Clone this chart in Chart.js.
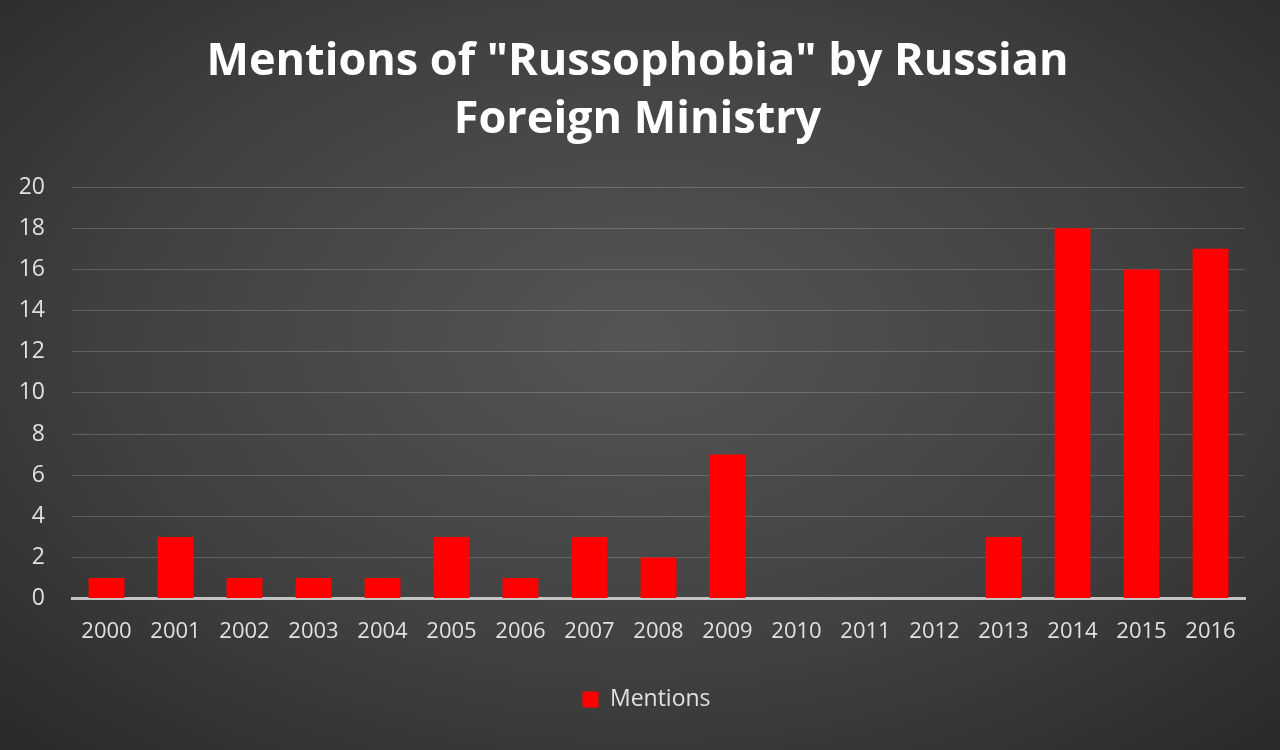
<!DOCTYPE html>
<html>
<head>
<meta charset="utf-8">
<script src="https://cdn.jsdelivr.net/npm/chart.js@4.4.0/dist/chart.umd.min.js"></script>
<style>
    html, body { margin: 0; padding: 0; }
    body {
        width: 1280px; height: 750px; overflow: hidden;
        background: radial-gradient(ellipse 75% 80% at 50% 45%, #555555 0%, #404040 55%, #272727 100%);
    }
    #wrap { position: relative; width: 1280px; height: 750px; }
</style>
</head>
<body>
<div id="wrap"><canvas id="myChart"></canvas></div>
<script>
let years = ['2000', '2001', '2002', '2003', '2004', '2005', '2006', '2007', '2008', '2009',
    '2010', '2011', '2012', '2013', '2014', '2015', '2016'];
let mentions = [1, 3, 1, 1, 1, 3, 1, 3, 2, 7, 0, 0, 0, 3, 18, 16, 17];
let title_lines = ['Mentions of "Russophobia" by Russian', 'Foreign Ministry'];

let txt_font = "Open Sans, Lato, sans-serif";

// title and legend sit centred over the plot, not the whole canvas
let shift_blocks = {
    id: 'shift_blocks',
    afterLayout(chart) {
        if (chart.titleBlock) chart.titleBlock.left = 30;
        if (chart.legend) chart.legend.left = 48;
    }
};

let ctx = document.getElementById('myChart');
let chart = new Chart(ctx, {
    type: 'bar',
    data: {
        labels: years,
        datasets: [
            {
                label: 'Mentions',
                data: mentions,
                backgroundColor: '#ff0000',
                borderWidth: 0,
                barPercentage: 0.52,
                categoryPercentage: 1.0
            }
        ]
    },
    options: {
        responsive: true,
        maintainAspectRatio: false,
        animation: false,
        layout: { padding: { top: 33, left: 0, right: 35, bottom: 29 } },
        scales: {
            x: {
                grid: { display: false },
                border: { display: true, color: '#c4c4c4', width: 3 },
                ticks: { color: '#e0e0e0', font: { family: txt_font, size: 22 }, padding: 12 }
            },
            y: {
                min: 0,
                max: 20,
                afterFit: (scale) => { scale.width = 72; },
                ticks: { stepSize: 2, color: '#e0e0e0', font: { family: txt_font, size: 23 }, padding: 27 },
                grid: { color: 'rgba(255,255,255,0.18)', lineWidth: 1, drawTicks: false },
                border: { display: false }
            }
        },
        plugins: {
            title: {
                display: true,
                text: title_lines,
                color: '#ffffff',
                font: { family: txt_font, size: 45, weight: 'bold', lineHeight: 1.29 },
                padding: { top: 0, bottom: 38 }
            },
            legend: {
                position: 'bottom',
                labels: {
                    color: '#e0e0e0',
                    font: { family: txt_font, size: 23 },
                    boxWidth: 16,
                    boxHeight: 16,
                    padding: 31
                }
            },
            tooltip: { enabled: false }
        }
    },
    plugins: [shift_blocks]
});
</script>
</body>
</html>
